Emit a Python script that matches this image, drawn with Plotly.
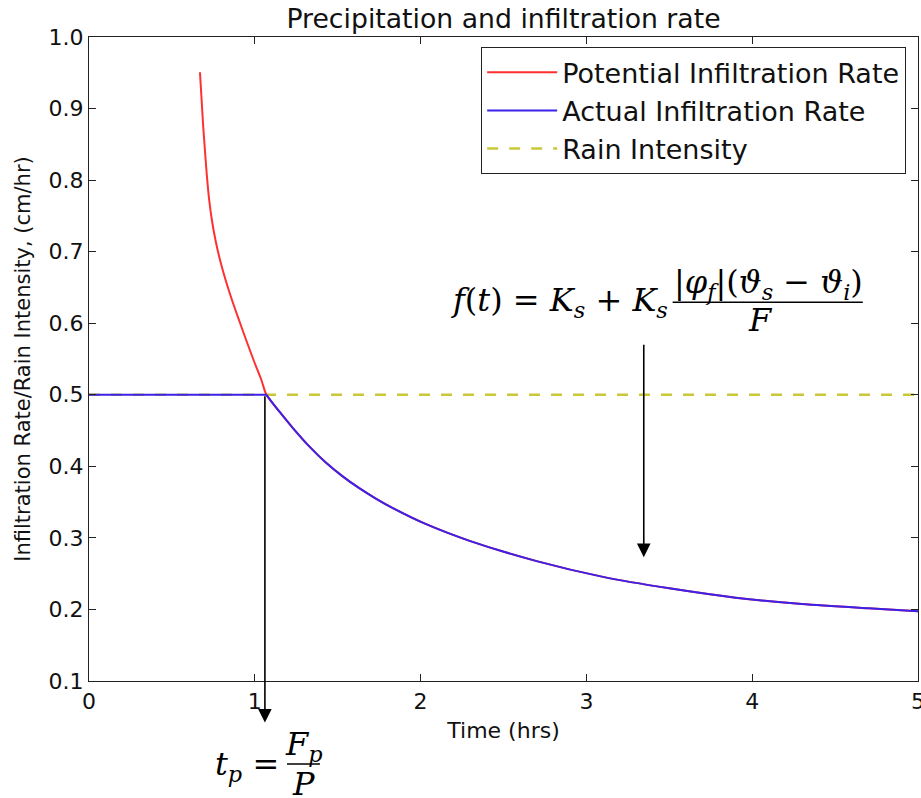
import plotly.graph_objects as go

# ---- data ----
pot_t = [0.6692, 0.6795, 0.6885, 0.6994, 0.7108, 0.7253, 0.7416, 0.7633, 0.7910, 0.8248,
         0.8634, 0.9056, 0.9490, 0.9936, 1.0407, 1.070]
pot_v = [0.9508, 0.9113, 0.8763, 0.8414, 0.8065, 0.7715, 0.7436, 0.7156, 0.6877, 0.6597,
         0.6318, 0.6038, 0.5759, 0.5479, 0.5200, 0.500]

act_t = [0.0, 1.07, 1.15, 1.23, 1.33, 1.43, 1.53, 1.63, 1.73, 1.83, 2.03, 2.30, 2.70,
         3.10, 3.50, 3.90, 4.30, 4.70, 5.00]
act_v = [0.5, 0.500, 0.476, 0.4535, 0.4275, 0.4050, 0.3860, 0.3695, 0.3550, 0.3420, 0.3195,
         0.2955, 0.2675, 0.2455, 0.2295, 0.2165, 0.2075, 0.2015, 0.1975]

rain_t = [0.0, 5.0]
rain_v = [0.5, 0.5]

t_ponding = 1.061
x_ticks = [0, 1, 2, 3, 4, 5]
y_ticks = [0.1, 0.2, 0.3, 0.4, 0.5, 0.6, 0.7, 0.8, 0.9, 1.0]

RED = "#ff3030"
BLUE = "#3a22ea"
YEL = "#c8c83a"
FONT = "DejaVu Sans"
SERIF = "DejaVu Serif"

fig = go.Figure()

fig.add_trace(go.Scatter(x=rain_t, y=rain_v, mode="lines", name="Rain Intensity",
                         line=dict(color=YEL, width=2.5, dash="11px,11px"), legendrank=3))
# potential rate continues beneath the actual rate after ponding
fig.add_trace(go.Scatter(x=pot_t + act_t[2:], y=pot_v + act_v[2:], mode="lines",
                         name="Potential Infiltration Rate",
                         line=dict(color=RED, width=2, shape="spline", smoothing=0.8), legendrank=1))
fig.add_trace(go.Scatter(x=act_t[:2], y=act_v[:2], mode="lines", name="Actual Infiltration Rate",
                         legendgroup="act", line=dict(color=BLUE, width=2), legendrank=2))
fig.add_trace(go.Scatter(x=act_t[1:], y=act_v[1:], mode="lines", name="Actual Infiltration Rate",
                         legendgroup="act", showlegend=False,
                         line=dict(color=BLUE, width=2, shape="spline", smoothing=0.8)))

EQF = dict(family=SERIF, size=32, color="black")
annotations = []
# f(t) equation
annotations.append(dict(x=3.503, y=0.629, xref="x", yref="y", xanchor="right", yanchor="middle",
                        text="<i>f</i>(<i>t</i>) = <i>K<sub>s</sub></i> + <i>K<sub>s</sub></i>",
                        showarrow=False, font=EQF))
annotations.append(dict(x=4.10, y=0.6225, xref="x", yref="y", xanchor="center", yanchor="bottom",
                        text="|<i>φ<sub>f</sub></i>|(<i>ϑ<sub>s</sub></i> − <i>ϑ<sub>i</sub></i>)",
                        showarrow=False, font=EQF))
annotations.append(dict(x=4.05, y=0.634, xref="x", yref="y", xanchor="center", yanchor="top",
                        text="<i>F</i>", showarrow=False, font=EQF))
# arrow to curve
annotations.append(dict(x=3.346, y=0.273, ax=3.346, ay=0.572, xref="x", yref="y", axref="x", ayref="y",
                        text="", showarrow=True, arrowhead=2, arrowsize=1.7, arrowwidth=1.6,
                        arrowcolor="black"))
# arrow at ponding time
annotations.append(dict(x=t_ponding, y=0.042, ax=t_ponding, ay=0.5, xref="x", yref="y", axref="x", ayref="y",
                        text="", showarrow=True, arrowhead=2, arrowsize=1.7, arrowwidth=1.6,
                        arrowcolor="black"))
# t_p equation (below the axes, paper coordinates)
annotations.append(dict(x=0.2315, y=-0.132, xref="paper", yref="paper", xanchor="right", yanchor="middle",
                        text="<i>t<sub>p</sub></i> =", showarrow=False, font=EQF))
annotations.append(dict(x=0.2593, y=-0.1362, xref="paper", yref="paper", xanchor="center", yanchor="bottom",
                        text="<i>F<sub>p</sub></i>", showarrow=False, font=EQF))
annotations.append(dict(x=0.2593, y=-0.1285, xref="paper", yref="paper", xanchor="center", yanchor="top",
                        text="<i>P</i>", showarrow=False, font=EQF, borderpad=0))

shapes = [
    dict(type="line", xref="x", yref="y", x0=3.52, x1=4.667, y0=0.6294, y1=0.6294,
         line=dict(color="black", width=1.5)),
    dict(type="line", xref="paper", yref="paper", x0=0.2388, x1=0.2786, y0=-0.1289, y1=-0.1289,
         line=dict(color="black", width=1.5)),
]

axis_common = dict(showline=True, linecolor="#222", linewidth=1.2, mirror="ticks",
                   ticks="inside", ticklen=7, tickwidth=1, tickcolor="#222",
                   showgrid=False, zeroline=False, ticklabeloverflow="allow",
                   tickfont=dict(family=FONT, size=22, color="#111"))

fig.update_layout(
    width=921, height=798,
    margin=dict(l=89, r=3, t=37, b=117),
    paper_bgcolor="white", plot_bgcolor="white",
    title=dict(text="Precipitation and infiltration rate", x=0.5, xref="paper",
               y=0.976, yref="container", yanchor="middle",
               font=dict(family=FONT, size=26.7, color="#111")),
    xaxis=dict(range=[0, 5], tickvals=x_ticks, ticktext=[str(v) for v in x_ticks], automargin=False,
               title=dict(text="Time (hrs)", font=dict(family=FONT, size=22, color="#111"), standoff=10),
               **axis_common),
    yaxis=dict(range=[0.1, 1.0], tickvals=y_ticks, ticktext=[f"{v:.1f}" for v in y_ticks], automargin=False,
               title=dict(text="Infiltration Rate/Rain Intensity, (cm/hr)",
                          font=dict(family=FONT, size=21, color="#111"), standoff=12),
               **axis_common),
    legend=dict(x=0.9855, y=0.9844, xanchor="right", yanchor="top",
                bordercolor="#222", borderwidth=1.2, bgcolor="white",
                font=dict(family=FONT, size=27, color="#111"), itemwidth=70,
                traceorder="normal"),
    annotations=annotations,
    shapes=shapes,
    showlegend=True,
)

fig.write_html("out.html")
